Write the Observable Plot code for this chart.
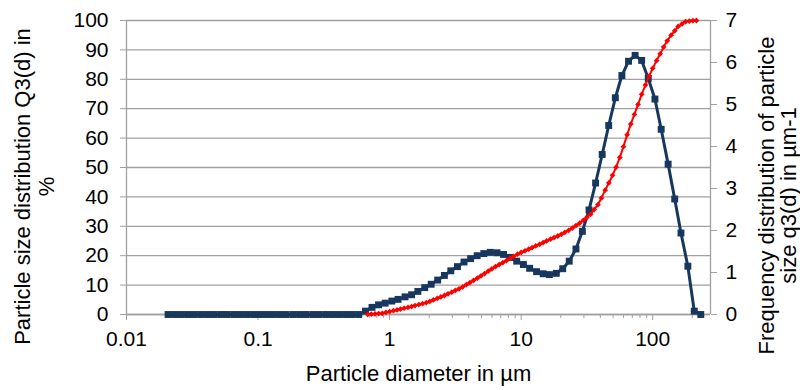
<!DOCTYPE html>
<html><head><meta charset="utf-8">
<script src="https://cdn.jsdelivr.net/npm/d3@7"></script>
<script src="https://cdn.jsdelivr.net/npm/@observablehq/plot@0.6"></script>
<style>
body{margin:0;background:#fff;}
#chart svg{display:block;}
</style>
</head><body><div id="chart"></div>
<script>
// ---- data ----
const xTicks = [0.01, 0.1, 1, 10, 100];
const xTickLabels = ["0.01", "0.1", "1", "10", "100"];
const minorTicks = [0.02,0.03,0.04,0.05,0.06,0.07,0.08,0.09,0.2,0.3,0.4,0.5,0.6,0.7,0.8,0.9,2,3,4,5,6,7,8,9,20,30,40,50,60,70,80,90,200];
const leftTicks = [0,10,20,30,40,50,60,70,80,90,100];
const rightTicks = [0,1,2,3,4,5,6,7];
const xMin = 0.01, xMax = 275;

// frequency distribution q3(d) (right axis), particle diameter in µm
const blueD = [0.0207,0.0232,0.0261,0.0292,0.0328,0.0368,0.0413,0.0463,0.052,0.0583,0.0655,0.0735,0.0824,0.0925,
 0.104,0.116,0.131,0.147,0.164,0.185,0.207,0.232,0.261,0.292,0.328,0.368,0.413,0.463,0.52,0.583,0.655,0.735,0.824,0.925,
 1.04,1.16,1.31,1.47,1.64,1.85,2.07,2.32,2.61,2.92,3.28,3.68,4.13,4.63,5.2,5.83,6.55,7.35,8.24,9.25,
 10.4,11.6,13.1,14.7,16.4,18.5,20.7,23.2,26.1,29.2,32.8,36.8,41.3,46.3,52,58.3,65.5,73.5,82.4,92.5,
 104,116,131,147,164,185,207,232];
const blueQ = [0,0,0,0,0,0,0,0,0,0,0,0,0,0,
 0,0,0,0,0,0,0,0,0,0,0,0,0,0,0,0,0.08,0.17,0.23,0.27,
 0.32,0.36,0.42,0.47,0.55,0.64,0.72,0.82,0.93,1.04,1.14,1.25,1.33,1.40,1.45,1.48,1.47,1.43,1.36,1.27,
 1.19,1.10,1.02,0.97,0.95,0.98,1.09,1.27,1.56,1.98,2.49,3.13,3.81,4.50,5.16,5.69,6.03,6.17,6.05,5.62,
 5.13,4.41,3.58,2.75,1.94,1.15,0.08,0];

// cumulative distribution Q3(d) in % (left axis)
const redD = [0.681,0.726,0.774,0.825,0.88,0.938,
 1,1.07,1.14,1.21,1.29,1.38,1.47,1.56,1.67,1.78,1.9,2.02,2.15,2.3,2.45,2.61,2.78,2.97,3.16,3.37,3.59,3.83,4.08,4.35,4.64,4.95,5.27,5.62,5.99,6.39,6.81,7.26,7.74,8.25,8.8,9.38,
 10,10.7,11.4,12.1,12.9,13.8,14.7,15.6,16.7,17.8,19,20.2,21.5,23,24.5,26.1,27.8,29.7,31.6,33.7,35.9,38.3,40.8,43.5,46.4,49.5,52.7,56.2,59.9,63.9,68.1,72.6,77.4,82.5,88,93.8,
 100,107,114,121,129,138,147,156,167,178,190,202,215];
const redQ = [0.05,0.12,0.2,0.3,0.42,0.7,
 1.0,1.28,1.56,1.84,2.13,2.41,2.7,3.03,3.36,3.69,4.02,4.43,4.94,5.45,5.96,6.46,7.02,7.6,8.17,8.74,9.38,10.13,10.87,11.62,12.36,13.14,13.94,14.73,15.53,16.29,16.98,17.66,18.35,19.07,19.79,20.53,
 21.1,21.65,22.2,22.74,23.31,23.89,24.47,25.04,25.6,26.15,26.7,27.27,27.96,28.65,29.4,30.23,31.06,32.04,33.07,34.09,35.71,37.35,39.66,42.3,44.74,47.34,50.12,53.4,57.1,61.1,64.77,68.05,71.44,74.91,78.06,81.1,
 83.73,86.34,88.67,90.95,93.07,95.02,96.49,97.97,98.82,99.64,99.81,99.94,100];

const xTitle = "Particle diameter in µm";
const leftTitle = "Particle size distribution Q3(d) in\n%";
const rightTitle = "Frequency distribution of particle\nsize q3(d) in µm-1";

// ---- build ----
const k = 100 / 7; // right-axis value -> left-axis units
const blue = blueD.map((d, i) => ({d, v: blueQ[i] * k}));
const red = redD.map((d, i) => ({d, v: redQ[i]}));
const navy = "#17375e";
const grey = "#a0a0a0";
const font = "Liberation Sans, Arial, sans-serif";

const chart = Plot.plot({
  width: 800, height: 390,
  marginLeft: 126, marginRight: 90, marginTop: 20, marginBottom: 76,
  style: {fontFamily: font, fontSize: "21px", color: "#000", background: "#fff", overflow: "visible"},
  x: {type: "log", domain: [xMin, xMax]},
  y: {domain: [0, 100]},
  marks: [
    Plot.gridY(leftTicks, {stroke: grey, strokeOpacity: 1, strokeWidth: 1.3}),
    Plot.ruleX([xMin, xMax], {stroke: grey, strokeWidth: 1.3}),
    Plot.ruleY([0], {stroke: grey, strokeWidth: 1.3}),
    Plot.axisY(leftTicks, {anchor: "left", tickSize: 6, tickPadding: 12, stroke: grey, fill: "#000", fontFamily: font, fontSize: 21, label: null, tickFormat: d => String(d)}),
    Plot.axisY(rightTicks.map(v => v * k), {anchor: "right", tickSize: 6, tickPadding: 9, stroke: grey, fill: "#000", fontFamily: font, fontSize: 21, label: null, tickFormat: d => String(Math.round(d / k))}),
    Plot.axisX(xTicks, {anchor: "bottom", tickSize: 6, tickPadding: 11, stroke: grey, fill: "#000", fontFamily: font, fontSize: 21, label: null, tickFormat: d => xTickLabels[xTicks.indexOf(d)]}),
    Plot.axisX(minorTicks, {anchor: "bottom", tickSize: 4, stroke: grey, label: null, tickFormat: () => ""}),
    Plot.line(blue, {x: "d", y: "v", stroke: navy, strokeWidth: 3}),
    Plot.dot(blue, {x: "d", y: "v", symbol: "square", r: 3.9, fill: navy}),
    Plot.line(red, {x: "d", y: "v", stroke: "#ff0000", strokeWidth: 2}),
    Plot.dot(red, {x: "d", y: "v", symbol: "diamond2", r: 2.6, fill: "#ff0000"}),
    Plot.text([xTitle], {frameAnchor: "bottom", dy: 59, fontSize: 22, fontFamily: font, lineAnchor: "middle", fill: "#000"}),
    Plot.text([leftTitle], {frameAnchor: "left", rotate: -90, textAnchor: "middle", lineAnchor: "middle", lineHeight: 1.1, dx: -92, dy: 19, fontSize: 22, fontFamily: font, fill: "#000"}),
    Plot.text([rightTitle], {frameAnchor: "right", rotate: -90, textAnchor: "middle", lineAnchor: "middle", lineHeight: 1.0, dx: 67, dy: 28, fontSize: 22, fontFamily: font, fill: "#000"})
  ]
});
document.getElementById("chart").appendChild(chart);
</script>
</body></html>
